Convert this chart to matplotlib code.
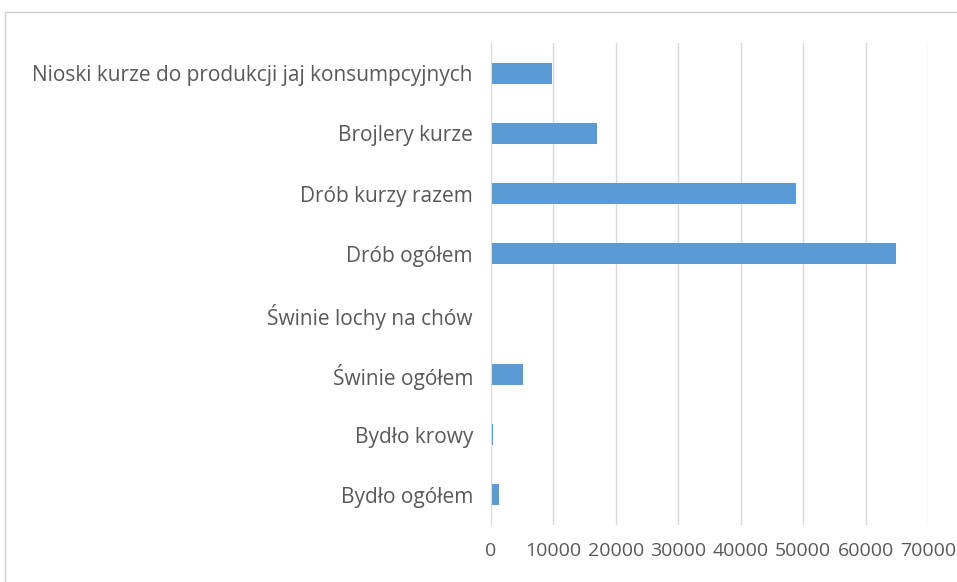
import matplotlib
matplotlib.use("Agg")
import matplotlib.pyplot as plt
from matplotlib.patches import Rectangle

# Liczba zwierząt wg kategorii
categories = [
    "Bydło ogółem",
    "Bydło krowy",
    "Świnie ogółem",
    "Świnie lochy na chów",
    "Drób ogółem",
    "Drób kurzy razem",
    "Brojlery kurze",
    "Nioski kurze do produkcji jaj konsumpcyjnych",
]
values = [1330, 280, 5180, 0, 64860, 48830, 17040, 9730]
x_ticks = [0, 10000, 20000, 30000, 40000, 50000, 60000, 70000]

bar_color = "#5B9BD5"
grid_color = "#D9D9D9"
text_color = "#595959"

plt.rcParams["font.family"] = ["Open Sans", "DejaVu Sans"]

fig = plt.figure(figsize=(9.57, 5.82), dpi=100)
fig.patch.set_facecolor("white")

# chart area frame, running off the right and bottom edges
fig.patches.append(Rectangle((5 / 957, -0.1), 1.1, 1 - 12 / 582 + 0.1,
                             transform=fig.transFigure, fill=False,
                             edgecolor="#D0D0D0", linewidth=1.0))

ax = fig.add_axes([491 / 957, 57 / 582, (928 - 491) / 957, (525 - 43) / 582])
ax.barh(range(len(categories)), values, height=0.35, color=bar_color)

ax.set_xlim(0, 70000)
ax.set_ylim(-0.5, len(categories) - 0.5)
ax.set_xticks(x_ticks)
ax.set_xticklabels([str(t) for t in x_ticks])
ax.set_yticks(range(len(categories)))
ax.set_yticklabels(categories)

ax.grid(axis="x", color=grid_color, linewidth=1.0)
ax.set_axisbelow(True)
for side in ["top", "right", "bottom"]:
    ax.spines[side].set_visible(False)
ax.spines["left"].set_color(grid_color)
ax.tick_params(axis="both", length=0, colors=text_color)
ax.tick_params(axis="x", pad=12, labelsize=14)
ax.tick_params(axis="y", pad=13, labelsize=15)

fig.savefig("out.png", dpi=100, facecolor="white")
